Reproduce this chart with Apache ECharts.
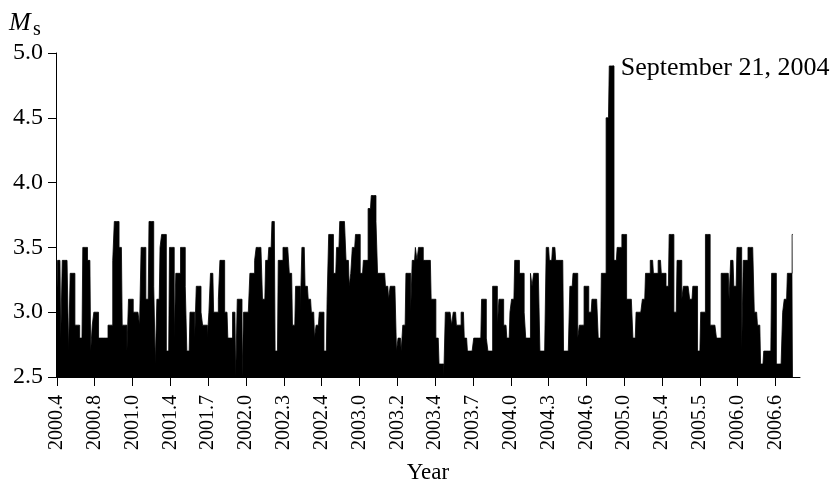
<!DOCTYPE html>
<html>
<head>
<meta charset="utf-8">
<script src="https://cdn.jsdelivr.net/npm/echarts@6.0.0/dist/echarts.min.js"></script>
<style>
  html, body { margin: 0; padding: 0; background: #fff; }
  #chart { width: 836px; height: 489px; }
</style>
</head>
<body>
<div id="chart"></div>
<script>
// Date labels shown under every 24th event
const tickLabels = ['2000.4', '2000.8', '2001.0', '2001.4', '2001.7', '2002.0', '2002.3',
  '2002.4', '2003.0', '2003.2', '2003.4', '2003.7', '2004.0', '2004.3', '2004.6',
  '2005.0', '2005.4', '2005.5', '2006.0', '2006.6'];
const eventsPerTick = 24;
const axisSlots = 472;

// Surface-wave magnitude of each event, in order (one row per labelled interval)
const magnitudes = [
  3.1, 3.4, 3.4, 2.8, 3.4, 3.4, 3.4, 3.4, 2.7, 3.3, 3.3, 3.3, 2.9, 2.9, 2.9, 2.8, 2.8, 3.5, 3.5, 3.5, 3.4, 3.4, 2.7, 2.9,
  3.0, 3.0, 3.0, 2.8, 2.8, 2.8, 2.8, 2.8, 2.8, 2.9, 2.9, 2.9, 3.4, 3.7, 3.7, 3.7, 3.5, 3.5, 2.9, 2.9, 2.9, 2.7, 3.1, 3.1,
  3.1, 3.0, 3.0, 3.0, 3.0, 2.9, 3.5, 3.5, 3.5, 3.1, 3.1, 3.7, 3.7, 3.7, 3.2, 2.6, 3.1, 3.1, 3.5, 3.6, 3.6, 3.6, 2.7, 2.7,
  3.5, 3.5, 3.5, 2.8, 3.3, 3.3, 3.3, 3.5, 3.5, 3.5, 3.2, 2.7, 2.7, 3.0, 3.0, 3.0, 2.8, 3.2, 3.2, 3.2, 3.0, 2.9, 2.9, 2.9,
  2.8, 3.0, 3.3, 3.3, 3.0, 3.0, 3.0, 3.1, 3.4, 3.4, 3.4, 3.0, 3.0, 2.8, 2.8, 2.8, 3.0, 3.0, 2.5, 3.1, 3.1, 3.1, 2.5, 3.0,
  3.0, 3.0, 3.0, 3.3, 3.3, 3.3, 3.4, 3.5, 3.5, 3.5, 3.5, 3.1, 3.1, 3.4, 3.4, 3.5, 3.5, 3.7, 3.7, 2.7, 2.7, 3.4, 3.4, 3.4,
  3.5, 3.5, 3.5, 3.5, 3.3, 3.3, 2.9, 2.9, 3.2, 3.2, 3.2, 3.0, 3.5, 3.5, 3.2, 3.2, 3.1, 3.1, 3.0, 3.0, 2.8, 2.9, 2.9, 3.0,
  3.0, 3.0, 2.7, 2.7, 3.1, 3.6, 3.6, 3.6, 3.3, 3.3, 3.5, 3.5, 3.7, 3.7, 3.7, 3.7, 3.4, 3.4, 3.2, 3.3, 3.5, 3.5, 3.6, 3.6,
  3.6, 3.3, 3.3, 3.4, 3.4, 3.4, 3.8, 3.8, 3.9, 3.9, 3.9, 3.7, 3.3, 3.3, 3.3, 3.3, 3.3, 3.2, 3.2, 3.1, 3.2, 3.2, 3.2, 3.2,
  2.7, 2.8, 2.8, 2.7, 2.9, 2.9, 3.3, 3.3, 3.3, 3.0, 3.4, 3.4, 3.5, 3.4, 3.5, 3.5, 3.5, 3.4, 3.4, 3.4, 3.4, 3.4, 3.1, 3.1,
  3.1, 2.8, 2.8, 2.6, 2.6, 2.6, 2.5, 3.0, 3.0, 3.0, 3.0, 2.9, 3.0, 3.0, 2.9, 2.9, 2.9, 3.0, 3.0, 2.8, 2.8, 2.7, 2.7, 2.7,
  2.7, 2.8, 2.8, 2.8, 2.8, 2.8, 3.1, 3.1, 3.1, 2.8, 2.7, 2.7, 2.7, 3.2, 3.2, 3.2, 2.9, 3.1, 3.1, 3.1, 2.9, 2.9, 2.8, 2.8,
  3.0, 3.1, 3.1, 3.4, 3.4, 3.4, 3.3, 3.3, 3.3, 3.0, 2.8, 2.8, 2.8, 3.3, 3.2, 3.3, 3.3, 3.3, 3.3, 2.7, 2.7, 2.7, 2.7, 3.5,
  3.5, 3.4, 3.4, 3.5, 3.5, 3.4, 3.4, 3.4, 3.4, 3.4, 2.7, 2.7, 2.7, 2.7, 3.2, 3.2, 3.3, 3.3, 3.3, 2.8, 2.9, 2.9, 2.9, 3.2,
  3.2, 3.2, 3.0, 3.0, 3.1, 3.1, 3.1, 3.1, 2.8, 2.8, 3.3, 3.3, 3.3, 4.5, 4.5, 4.9, 4.9, 4.9, 3.4, 3.4, 3.5, 3.5, 3.5, 3.6,
  3.6, 3.6, 3.1, 3.1, 3.1, 3.1, 2.8, 2.8, 3.0, 3.0, 3.0, 3.0, 3.1, 3.1, 3.3, 3.3, 3.3, 3.4, 3.4, 3.3, 3.3, 3.3, 3.4, 3.4,
  3.3, 3.3, 3.3, 3.2, 3.2, 3.6, 3.6, 3.6, 3.0, 3.0, 3.4, 3.4, 3.4, 3.1, 3.2, 3.2, 3.2, 3.2, 3.1, 3.1, 3.2, 3.2, 3.2, 2.7,
  2.7, 3.0, 3.0, 3.0, 3.6, 3.6, 3.6, 2.9, 2.9, 2.9, 2.9, 2.8, 2.8, 2.8, 3.3, 3.3, 3.3, 3.3, 3.3, 3.1, 3.4, 3.4, 3.2, 3.2,
  3.5, 3.5, 3.5, 2.7, 3.4, 3.4, 3.4, 3.5, 3.5, 3.5, 3.5, 3.0, 3.0, 2.9, 2.9, 2.6, 2.6, 2.7, 2.7, 2.7, 2.7, 2.7, 3.3, 3.3,
  3.3, 2.6, 2.6, 2.6, 2.6, 3.0, 3.1, 3.1, 3.3, 3.3, 3.3, 3.6
];

const peakNote = 'September 21, 2004';

const serif = '"Liberation Serif", "Times New Roman", serif';

// The note sits to the right of the last event of the strongest run
const peakValue = Math.max(...magnitudes);
const peakIndex = magnitudes.lastIndexOf(peakValue);

const seriesData = magnitudes.map((v, i) => {
  if (i !== peakIndex) return v;
  return {
    value: v,
    symbol: 'circle',
    symbolSize: 1,
    itemStyle: { color: '#000' },
    label: {
      show: true,
      position: 'right',
      distance: 7,
      offset: [0, 2],
      formatter: peakNote,
      color: '#000',
      fontFamily: serif,
      fontSize: 26
    }
  };
});

const categories = Array.from({ length: axisSlots }, (_, i) => String(i));

const chart = echarts.init(document.getElementById('chart'), null, { renderer: 'canvas' });

chart.setOption({
  animation: false,
  backgroundColor: '#fff',
  grid: { left: 56, right: 36, top: 53, bottom: 105, containLabel: false },
  xAxis: {
    type: 'category',
    data: categories,
    boundaryGap: true,
    name: 'Year',
    nameLocation: 'middle',
    nameGap: 84,
    nameTextStyle: { color: '#000', fontFamily: serif, fontSize: 23 },
    axisLine: { show: true, lineStyle: { color: '#000', width: 1 } },
    axisTick: {
      show: true,
      alignWithLabel: true,
      interval: eventsPerTick - 1,
      length: 9,
      lineStyle: { color: '#000', width: 1 }
    },
    axisLabel: {
      interval: eventsPerTick - 1,
      rotate: 90,
      margin: 18,
      color: '#000',
      fontFamily: serif,
      fontSize: 20,
      formatter: (value, index) => tickLabels[index / eventsPerTick] || ''
    },
    splitLine: { show: false }
  },
  yAxis: {
    type: 'value',
    min: 2.5,
    max: 5.0,
    interval: 0.5,
    axisLine: { show: true, lineStyle: { color: '#000', width: 1 } },
    axisTick: { show: true, length: 8, lineStyle: { color: '#000', width: 1 } },
    axisLabel: {
      margin: 13,
      color: '#000',
      fontFamily: serif,
      fontSize: 24,
      formatter: v => v.toFixed(1)
    },
    splitLine: { show: false }
  },
  graphic: [
    {
      type: 'text', left: 9, top: 10,
      style: { text: 'M', font: 'italic 26px ' + serif, fill: '#000' }
    },
    {
      type: 'text', left: 33, top: 20,
      style: { text: 's', font: '20px ' + serif, fill: '#000' }
    }
  ],
  series: [{
    type: 'line',
    data: seriesData,
    step: 'middle',
    symbol: 'none',
    showAllSymbol: true,
    lineStyle: { color: '#000', width: 0.8 },
    areaStyle: { color: '#000', opacity: 1, origin: 'start' },
    itemStyle: { color: '#000' },
    emphasis: { disabled: true },
    silent: true
  }]
});
</script>
</body>
</html>
